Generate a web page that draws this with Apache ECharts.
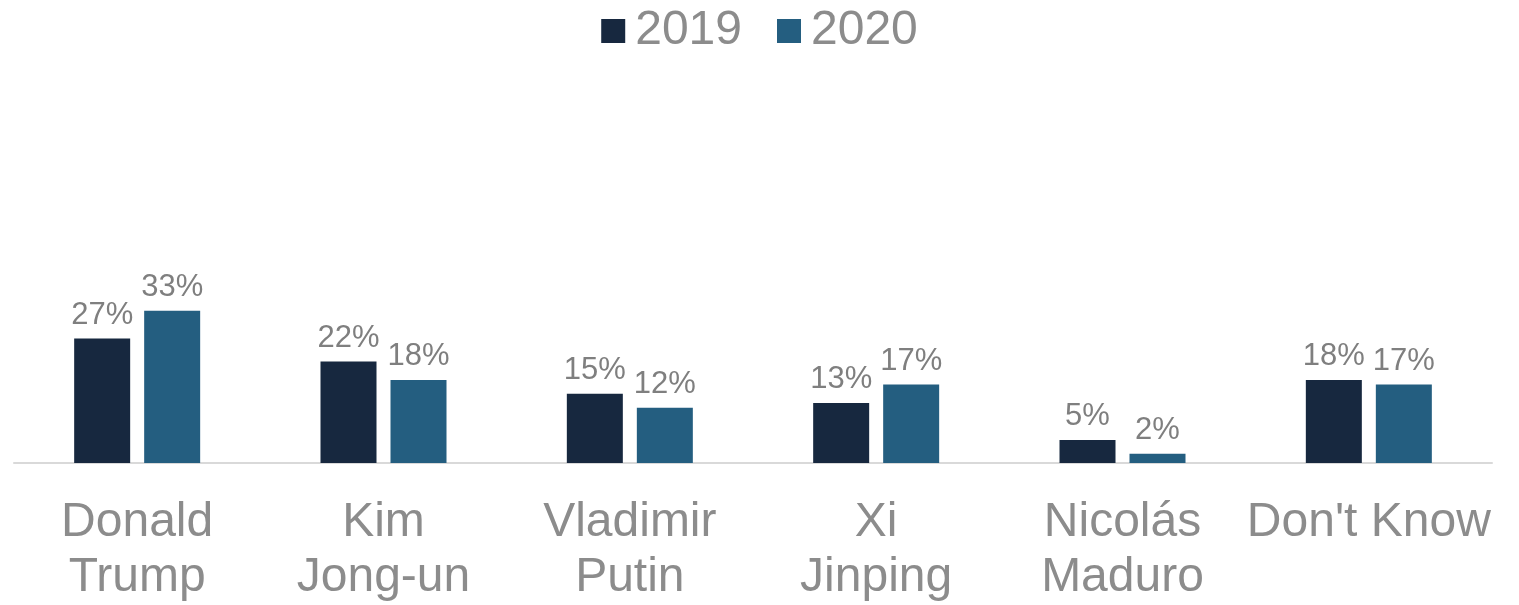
<!DOCTYPE html>
<html>
<head>
<meta charset="utf-8">
<script src="https://cdn.jsdelivr.net/npm/echarts@6/dist/echarts.min.js"></script>
<style>
html,body{margin:0;padding:0;background:#fff;}
#chart{width:1519px;height:605px;}
</style>
</head>
<body>
<div id="chart"></div>
<script>
const categories = ["Donald\nTrump", "Kim\nJong-un", "Vladimir\nPutin", "Xi\nJinping", "Nicolás\nMaduro", "Don't Know"];
const seriesNames = ["2019", "2020"];
const values2019 = [27, 22, 15, 13, 5, 18];
const values2020 = [33, 18, 12, 17, 2, 17];

const FONT = "'Liberation Sans', Arial, sans-serif";
const chart = echarts.init(document.getElementById('chart'));
const labelCfg = {
  show: true, position: 'top', distance: 8,
  formatter: p => p.value + '%',
  color: '#7f7f7f', fontSize: 31, fontFamily: FONT
};
chart.setOption({
  animation: false,
  legend: {
    top: 2, left: 'center',
    itemWidth: 24, itemHeight: 24, itemGap: 35,
    icon: 'rect',
    textStyle: { color: '#8c8c8c', fontSize: 48, fontFamily: FONT, padding: [0,0,0,5] },
    data: seriesNames
  },
  grid: { left: 14, right: 27, top: 94, bottom: 134, containLabel: false },
  xAxis: {
    type: 'category', data: categories,
    axisLine: { lineStyle: { color: '#d9d9d9', width: 2 } },
    axisTick: { show: false },
    axisLabel: { color: '#8c8c8c', fontSize: 48, fontFamily: FONT, lineHeight: 55, margin: 32, interval: 0 }
  },
  yAxis: { type: 'value', min: 0, max: 80, show: false, splitLine: { show: false } },
  series: [
    { name: seriesNames[0], type: 'bar', data: values2019, barWidth: 56, barGap: '25%',
      itemStyle: { color: '#17283f' }, label: labelCfg },
    { name: seriesNames[1], type: 'bar', data: values2020, barWidth: 56,
      itemStyle: { color: '#245e80' }, label: labelCfg }
  ]
});
</script>
</body>
</html>
